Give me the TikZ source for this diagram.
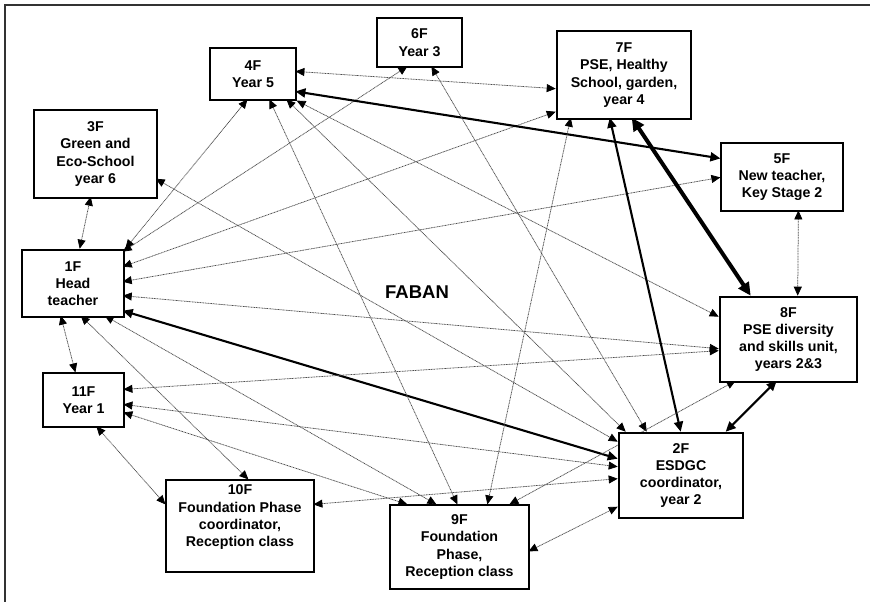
\documentclass[tikz,border=0pt]{standalone}
\usepackage{fontspec}
\setmainfont{Liberation Sans}
\usetikzlibrary{arrows.meta,calc}
\pgfdeclarelayer{bg}
\pgfsetlayers{bg,main}
\begin{document}
\begin{tikzpicture}[x=1pt,y=-1pt,
  box/.style={draw=black, fill=white, line width=1.2pt, inner sep=0pt, align=center,
    font=\fontsize{14.2}{17.3}\selectfont\bfseries},
  boxk/.style={box, line width=2.6pt},
  tw/.style={{Triangle[length=9pt,width=8pt,color=black]}-{Triangle[length=9pt,width=8pt,color=black]}},
  dl/.style={tw, draw=black!70, line width=0.75pt, dash pattern=on 1pt off 0.6pt},
  tk/.style={{Triangle[length=10pt,width=9pt]}-{Triangle[length=10pt,width=9pt]}, draw=black, line width=2.1pt},
  tkk/.style={{Triangle[length=13pt,width=12pt]}-{Triangle[length=13pt,width=12pt]}, draw=black, line width=4pt},
  frame/.style={draw=black!80, line width=1.5pt}
]
\useasboundingbox (0,0) rectangle (870,602);
\draw[frame] (5,602) -- (5,5) -- (870,5);

% nodes
\node[boxk, minimum width=102pt, minimum height=67pt] (n1) at (73,283.5) {1F\\Head\\teacher};
\node[boxk, minimum width=124pt, minimum height=85pt] (n2) at (681,475.5) {2F\\ESDGC\\coordinator,\\year 2};
\node[boxk, minimum width=123pt, minimum height=88pt] (n3) at (95.5,154) {3F\\Green and\\Eco-School\\year 6};
\node[box, minimum width=86pt, minimum height=52pt] (n4) at (253,74) {4F\\Year 5};
\node[box, minimum width=122pt, minimum height=68pt] (n5) at (782,177) {5F\\New teacher,\\Key Stage 2};
\node[box, minimum width=85pt, minimum height=49pt] (n6) at (419.5,42.5) {6F\\Year 3};
\node[boxk, minimum width=134pt, minimum height=88pt] (n7) at (624,75) {7F\\PSE, Healthy\\School, garden,\\year 4};
\node[boxk, minimum width=137pt, minimum height=85pt] (n8) at (788.5,339.5) {8F\\PSE diversity\\and skills unit,\\years 2\&3};
\node[box, minimum width=139pt, minimum height=84pt] (n9) at (459.5,547) {9F\\Foundation\\Phase,\\Reception class};
\node[box, minimum width=148pt, minimum height=92pt] (n10) at (240,526) {10F\\Foundation Phase\\coordinator,\\Reception class\\[3pt]};
\node[box, minimum width=81pt, minimum height=54pt] (n11) at (83.5,400) {11F\\Year 1};
\node[font=\fontsize{18.5}{22}\selectfont\bfseries] (faban) at (417,292) {FABAN};

\begin{pgfonlayer}{bg}
% 1F
\draw[dl] ($(n1.north west)+(59,0)$) -- ($(n3.north west)+(58,88)$);
\draw[dl] (n1.north east) -- ($(n4.north west)+(38,52)$);
\draw[dl] ($(n1.north west)+(102,3)$) -- ($(n6.north west)+(31,49)$);
\draw[dl] ($(n1.north west)+(102,18)$) -- ($(n7.north west)+(0,82)$);
\draw[dl] ($(n1.north west)+(102,33)$) -- ($(n5.north west)+(0,35)$);
\draw[dl] ($(n1.north west)+(102,47)$) -- ($(n8.north west)+(0,53)$);
\draw[tk] ($(n1.north west)+(102,62)$) -- ($(n2.north west)+(0,27)$);
\draw[dl] ($(n1.north west)+(40,67)$) -- ($(n11.north west)+(33,0)$);
\draw[dl] ($(n1.north west)+(60,67)$) -- ($(n10.north west)+(83,0)$);
\draw[dl] ($(n1.north west)+(84,67)$) -- ($(n9.north west)+(47,0)$);
% 3F
\draw[dl] ($(n3.north west)+(123,70)$) -- ($(n2.north west)+(0,10)$);
% 4F
\draw[dl] ($(n4.north west)+(86,24)$) -- ($(n7.north west)+(0,59)$);
\draw[tk] ($(n4.north west)+(86,44)$) -- ($(n5.north west)+(0,16)$);
\draw[dl] ($(n4.north west)+(60,52)$) -- ($(n9.north west)+(68,0)$);
\draw[dl] ($(n4.north west)+(77,52)$) -- ($(n2.north west)+(8,0)$);
\draw[dl] (n4.south east) -- ($(n8.north west)+(0,21)$);
% 6F
\draw[dl] ($(n6.north west)+(55,49)$) -- ($(n2.north west)+(29,0)$);
% 7F
\draw[dl] ($(n7.north west)+(15,88)$) -- ($(n9.north west)+(98,0)$);
\draw[tk] ($(n7.north west)+(54,88)$) -- ($(n2.north west)+(63,0)$);
\draw[tkk] ($(n7.north west)+(76,88)$) -- ($(n8.north west)+(32,0)$);
% 5F
\draw[dl] ($(n5.north west)+(78,68)$) -- ($(n8.north west)+(79,0)$);
% 8F
\draw[dl] ($(n8.north west)+(17,85)$) -- ($(n9.north west)+(120,0)$);
\draw[tk] ($(n8.north west)+(58,85)$) -- ($(n2.north west)+(108,0)$);
% 11F
\draw[dl] ($(n11.north west)+(81,17)$) -- ($(n8.north west)+(0,55)$);
\draw[dl] ($(n11.north west)+(81,32)$) -- ($(n2.north west)+(0,35)$);
\draw[dl] ($(n11.north west)+(81,40)$) -- ($(n9.north west)+(18,0)$);
\draw[dl] ($(n11.north west)+(54,54)$) -- ($(n10.north west)+(0,25)$);
% 10F
\draw[dl] ($(n10.north west)+(148,25)$) -- ($(n2.north west)+(0,47)$);
% 9F
\draw[dl] ($(n9.north west)+(139,47)$) -- ($(n2.north west)+(0,75)$);
\end{pgfonlayer}
\end{tikzpicture}
\end{document}
